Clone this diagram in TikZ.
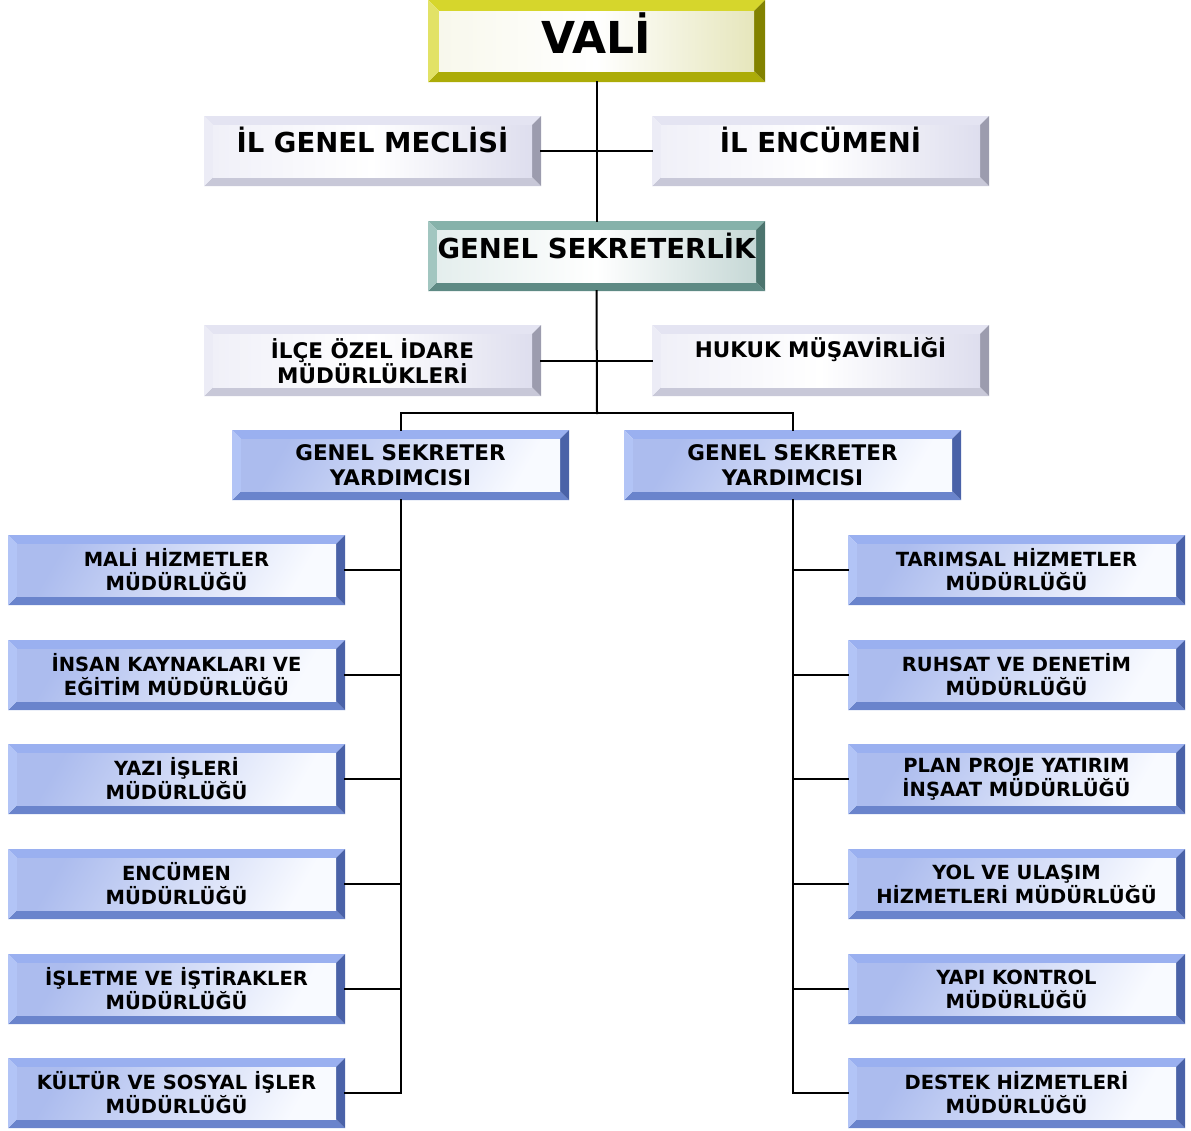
\documentclass[tikz,border=0pt]{standalone}
\usepackage{fontspec}
\setmainfont{DejaVu Sans}
\definecolor{yT}{HTML}{D6D62C}\definecolor{yL}{HTML}{E2E266}\definecolor{yB}{HTML}{ACAC08}\definecolor{yR}{HTML}{828200}
\definecolor{yA}{HTML}{F8F8EC}\definecolor{yZ}{HTML}{E6E6BC}
\definecolor{gT}{HTML}{E4E4F2}\definecolor{gL}{HTML}{ECECF6}\definecolor{gB}{HTML}{C8C8D8}\definecolor{gR}{HTML}{9C9CAE}
\definecolor{gA}{HTML}{F0F0F8}\definecolor{gZ}{HTML}{DEDEEE}
\definecolor{tT}{HTML}{86B2AA}\definecolor{tL}{HTML}{A2C6C0}\definecolor{tB}{HTML}{5E8A84}\definecolor{tR}{HTML}{4C746E}
\definecolor{tA}{HTML}{E4EEED}\definecolor{tZ}{HTML}{C6D8D6}
\definecolor{bT}{HTML}{9AB0F0}\definecolor{bL}{HTML}{B2C4F6}\definecolor{bB}{HTML}{6A84CC}\definecolor{bR}{HTML}{4A62A8}
\definecolor{bA}{HTML}{ACBCEE}\definecolor{bZ}{HTML}{F8FAFF}
\tikzset{
  conn/.style={line width=2, black, line cap=rect},
  lblXL/.style={inner sep=0, anchor=base, font=\bfseries\fontsize{44}{50}\selectfont},
  lblL/.style={inner sep=0, anchor=base, font=\bfseries\fontsize{27.5}{33}\selectfont},
  lblM/.style={inner sep=0, anchor=base, font=\bfseries\fontsize{21.5}{25}\selectfont},
  lblM2/.style={inner sep=0, align=center, font=\bfseries\fontsize{21.5}{25}\selectfont},
  lblS2/.style={inner sep=0, align=center, font=\bfseries\fontsize{19.5}{24}\selectfont},
  yin/.style={shade, left color=yA, right color=yZ, middle color=white},
  gin/.style={shade, left color=gA, right color=gZ, middle color=white},
  tin/.style={shade, left color=tA, right color=tZ, middle color=white},
  bin/.style={shade, top color=bA, bottom color=bZ, shading angle=60},
}
\def\bw{9}
% #1 name, #2 x1, #3 y1, #4 x2, #5 y2, #6 scheme, #7 text style, #8 text y, #9 text
\newcommand\bevbox[9]{%
  \fill[#6T] (#2,#3) -- (#4,#3) -- ({#4-\bw},{#3+\bw}) -- ({#2+\bw},{#3+\bw}) -- cycle;
  \fill[#6B] (#2,#5) -- (#4,#5) -- ({#4-\bw},{#5-\bw}) -- ({#2+\bw},{#5-\bw}) -- cycle;
  \fill[#6L] (#2,#3) -- ({#2+\bw},{#3+\bw}) -- ({#2+\bw},{#5-\bw}) -- (#2,#5) -- cycle;
  \fill[#6R] (#4,#3) -- ({#4-\bw},{#3+\bw}) -- ({#4-\bw},{#5-\bw}) -- (#4,#5) -- cycle;
  \path[#6in] ({#2+\bw},{#3+\bw}) rectangle ({#4-\bw},{#5-\bw});
  \node[inner sep=0, minimum width={(#4-#2)*1pt}, minimum height={(#5-#3)*1pt}] (#1) at ({(#2+#4)/2},{(#3+#5)/2}) {};
  \node[#7] (#1-t) at ({(#2+#4)/2},#8) {#9};
}
\begin{document}
\begin{tikzpicture}[x=1pt,y=-1pt]
\useasboundingbox (0,0) rectangle (1191,1130);
\def\bw{11}
\bevbox{vali}{428}{0}{765}{82}{y}{lblXL}{53}{VALİ}
\def\bw{9}
\bevbox{meclis}{204}{116}{541}{186}{g}{lblL}{152}{İL GENEL MECLİSİ}
\bevbox{encumen}{652}{116}{989}{186}{g}{lblL}{152}{İL ENCÜMENİ}
\bevbox{gs}{428}{221}{765}{291}{t}{lblL}{258}{GENEL SEKRETERLİK}
\bevbox{ilce}{204}{325}{541}{396}{g}{lblM2}{361}{İLÇE ÖZEL İDARE\\MÜDÜRLÜKLERİ}
\bevbox{hukuk}{652}{325}{989}{396}{g}{lblM}{357}{HUKUK MÜŞAVİRLİĞİ}
\bevbox{gsyL}{232}{430}{569}{500}{b}{lblM2}{465}{GENEL SEKRETER\\YARDIMCISI}
\bevbox{gsyR}{624}{430}{961}{500}{b}{lblM2}{465}{GENEL SEKRETER\\YARDIMCISI}
% left column
\bevbox{l1}{8}{535}{345}{605}{b}{lblS2}{570}{MALİ HİZMETLER\\MÜDÜRLÜĞÜ}
\bevbox{l2}{8}{640}{345}{710}{b}{lblS2}{675}{İNSAN KAYNAKLARI VE\\EĞİTİM MÜDÜRLÜĞÜ}
\bevbox{l3}{8}{744}{345}{814}{b}{lblS2}{779}{YAZI İŞLERİ\\MÜDÜRLÜĞÜ}
\bevbox{l4}{8}{849}{345}{919}{b}{lblS2}{884}{ENCÜMEN\\MÜDÜRLÜĞÜ}
\bevbox{l5}{8}{954}{345}{1024}{b}{lblS2}{989}{İŞLETME VE İŞTİRAKLER\\MÜDÜRLÜĞÜ}
\bevbox{l6}{8}{1058}{345}{1128}{b}{lblS2}{1093}{KÜLTÜR VE SOSYAL İŞLER\\MÜDÜRLÜĞÜ}
% right column
\bevbox{r1}{848}{535}{1185}{605}{b}{lblS2}{570}{TARIMSAL HİZMETLER\\MÜDÜRLÜĞÜ}
\bevbox{r2}{848}{640}{1185}{710}{b}{lblS2}{675}{RUHSAT VE DENETİM\\MÜDÜRLÜĞÜ}
\bevbox{r3}{848}{744}{1185}{814}{b}{lblS2}{779}{PLAN PROJE YATIRIM\\İNŞAAT MÜDÜRLÜĞÜ}
\bevbox{r4}{848}{849}{1185}{919}{b}{lblS2}{884}{YOL VE ULAŞIM\\HİZMETLERİ MÜDÜRLÜĞÜ}
\bevbox{r5}{848}{954}{1185}{1024}{b}{lblS2}{989}{YAPI KONTROL\\MÜDÜRLÜĞÜ}
\bevbox{r6}{848}{1058}{1185}{1128}{b}{lblS2}{1093}{DESTEK HİZMETLERİ\\MÜDÜRLÜĞÜ}
% connectors
\coordinate (j) at (597,413);
\draw[conn] (vali.south) -- (gs.north);
\draw[conn] (meclis.east) -- (encumen.west);
\draw[conn] (ilce.east) -- (hukuk.west);
\draw[conn] (gs.south) -- (j);
\draw[conn] (gsyL.north) |- (j) -| (gsyR.north);
\draw[conn] (gsyL.south) -- (gsyL.south |- l6.east);
\draw[conn] (gsyR.south) -- (gsyR.south |- r6.west);
\foreach \n in {l1,l2,l3,l4,l5,l6}{\draw[conn] (\n.east) -- (\n.east -| gsyL.south);}
\foreach \n in {r1,r2,r3,r4,r5,r6}{\draw[conn] (\n.west) -- (\n.west -| gsyR.south);}
\end{tikzpicture}
\end{document}
